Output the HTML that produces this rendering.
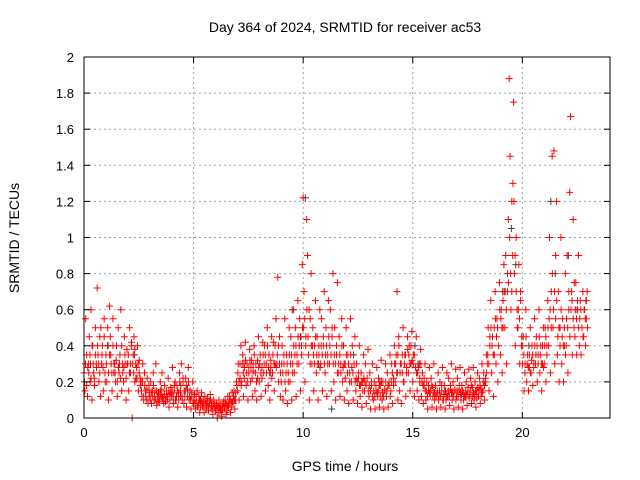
<!DOCTYPE html>
<html><head><meta charset="utf-8"><style>
body{margin:0;background:#fff}
svg{display:block;font-family:"Liberation Sans",sans-serif}
</style></head><body>
<svg id="chart" width="640" height="480" viewBox="0 0 640 480">
<rect width="640" height="480" fill="#fff"/>
<g id="grid"></g>
<g id="points"></g>
<rect x="84" y="57" width="526" height="361" fill="none" stroke="#000" stroke-width="1"/>
<g id="ticks"></g>
<text x="345" y="32" font-size="14" text-anchor="middle">Day 364 of 2024, SRMTID for receiver ac53</text>
<text x="345" y="471" font-size="14" text-anchor="middle">GPS time / hours</text>
<text transform="translate(19,238) rotate(-90)" font-size="14" text-anchor="middle">SRMTID / TECUs</text>
</svg>
<script>
const xTicks=[0,5,10,15,20];
const yTicks=[0,0.2,0.4,0.6,0.8,1,1.2,1.4,1.6,1.8,2];
const binStart=0, binWidth=0.2;
const redBins=[
".25 .15 .55 .35 .12",".3 .45 .2 .6 .1",".4 .25 .18 .5 .3",".72 .35 .2 .45 .12",".3 .4 .15 .55 .25",
".35 .2 .5 .1 .62",".45 .3 .15 .55 .25",".3 .2 .4 .12 .5",".25 .35 .6 .15 .3",".2 .45 .3 .1 .38",
".3 .15 .5 .25 .4","0 .35 .45 .2 .3",".28 .4 .15 .32 .22",".2 .12 .3 .1 .25",".15 .1 .22 .08 .18",
".12 .2 .08 .15 .25",".1 .15 .3 .07 .12",".14 .09 .2 .12 .25",".12 .08 .18 .1 .15",".1 .22 .06 .13 .17",
".12 .28 .08 .15 .2",".1 .18 .06 .14 .25",".15 .3 .1 .2 .08",".12 .22 .06 .16 .28",".1 .15 .05 .12 .2",
".08 .13 .05 .1 .15",".07 .12 .03 .1 .14",".06 .1 .03 .12 .08",".07 .11 .04 .09 .13",".05 .09 .02 .1 .07",
".04 .08 0 .06 .1",".03 .07 .01 .05 .09",".05 .1 .02 .07 .12",".06 .12 .03 .09 .14",".08 .15 .05 .1 .2",
".15 .3 .1 .22 .4",".2 .35 .12 .28 .42",".18 .3 .1 .25 .38",".2 .32 .12 .26 .4",".15 .3 .1 .22 .45",
".2 .35 .12 .28 .42",".25 .4 .15 .3 .5",".18 .35 .1 .28 .45",".25 .42 .15 .3 .55",".3 .78 .2 .45 .12",
".2 .4 .1 .3 .55",".15 .35 .08 .25 .5",".2 .45 .1 .3 .6",".25 .5 .12 .35 .65",".3 .55 .15 .4 .85",
"1.22 .7 .2 .45 1.1",".9 .35 .1 .55 .8",".3 .5 .15 .4 .65",".25 .45 .1 .35 .6",".3 .55 .15 .4 .7",
".25 .5 .12 .35 .65",".3 .6 .15 .45 .8",".2 .5 .1 .35 .75",".25 .45 .12 .3 .55",".2 .4 .1 .3 .5",
".15 .35 .08 .25 .55",".2 .4 .1 .3 .45",".15 .3 .08 .22 .4",".12 .25 .06 .2 .35",".15 .3 .08 .22 .38",
".12 .25 .05 .18 .3",".1 .2 .05 .15 .28",".12 .22 .06 .18 .32",".1 .2 .05 .15 .3",".12 .25 .06 .18 .35",
".15 .3 .08 .22 .4",".2 .35 .7 .1 .45",".15 .3 .08 .25 .5",".2 .35 .12 .28 .45",".25 .4 .15 .3 .48",
".2 .35 .12 .28 .45",".15 .3 .1 .22 .38",".12 .25 .08 .18 .3",".1 .2 .05 .15 .28",".12 .22 .06 .17 .3",
".1 .18 .05 .14 .25",".12 .2 .06 .15 .28",".1 .18 .05 .13 .25",".12 .22 .07 .16 .3",".1 .2 .05 .15 .27",
".12 .22 .06 .16 .28",".1 .18 .05 .14 .25",".12 .2 .07 .15 .27",".13 .22 .08 .17 .28",".1 .2 .06 .15 .25",
".12 .22 .08 .16 .3",".15 .25 .1 .2 .35",".3 .5 .15 .4 .65",".25 .45 .12 .35 .7",".3 .55 .2 .4 .75",
".35 .6 .25 .5 .85",".5 .9 .3 .7 1.1","1.88 1.45 .6 1.2 .9","1.75 .8 .4 1.0 .6",".5 .85 .3 .65 .4",
".3 .45 .15 .25 .6",".2 .35 .15 .28 .5",".25 .4 .18 .3 .55",".3 .45 .2 .35 .6",".25 .4 .15 .3 .5",
".3 .5 .2 .4 .65",".4 1.0 .25 .7 1.45",".5 1.48 .3 .9 1.2",".35 .7 .2 .5 1.0",".3 .55 .2 .4 .8",
".4 .9 .25 .6 1.25","1.67 .7 .35 1.1 .5",".45 .75 .35 .6 .9",".4 .65 .35 .5 .7",".45 .6 .4 .55 .7"];
const redBins2=[
".2 .3 .18 .28",".25 .35 .22 .4",".3 .22 .35 .28",".4 .3 .25 .5",".35 .28 .45 .2",
".3 .4 .25 .35",".35 .25 .4 .3",".25 .32 .2 .28",".3 .22 .4 .25",".28 .35 .22 .3",
".35 .25 .3 .42",".3 .25 .38 .22",".22 .3 .25 .18",".15 .2 .12 .18",".12 .16 .1 .14",
".1 .14 .12 .18",".12 .1 .15 .09",".1 .13 .16 .11",".1 .13 .09 .12",".12 .15 .1 .14",
".15 .12 .18 .1",".12 .15 .1 .2",".18 .12 .22 .15",".15 .18 .12 .2",".12 .1 .14 .08",
".1 .08 .12 .06",".08 .1 .06 .09",".08 .06 .1 .05",".09 .06 .08 .1",".07 .05 .08 .06",
".05 .07 .03 .06",".05 .04 .06 .08",".06 .08 .04 .07",".08 .1 .06 .09",".12 .1 .14 .18",
".25 .2 .3 .18",".3 .25 .22 .32",".25 .2 .28 .32",".28 .22 .3 .35",".25 .2 .32 .28",
".3 .25 .22 .35",".3 .35 .25 .4",".28 .25 .32 .22",".35 .3 .4 .28",".35 .4 .3 .25",
".3 .25 .35 .2",".25 .3 .2 .35",".3 .35 .25 .4",".35 .4 .3 .45",".4 .45 .35 .5",
".5 .55 .4 .6",".45 .6 .3 .4",".4 .35 .3 .45",".35 .3 .4 .28",".4 .35 .45 .3",
".35 .4 .3 .45",".4 .35 .5 .3",".35 .3 .4 .25",".3 .35 .25 .4",".28 .3 .22 .35",
".25 .3 .2 .35",".28 .25 .3 .2",".22 .2 .25 .18",".18 .2 .15 .22",".2 .18 .22 .15",
".18 .15 .2 .12",".15 .12 .18 .14",".15 .18 .12 .2",".14 .12 .16 .2",".15 .18 .2 .12",
".2 .25 .18 .3",".3 .25 .35 .4",".25 .3 .35 .2",".3 .35 .25 .38",".35 .3 .4 .32",
".3 .35 .28 .25",".25 .28 .2 .3",".2 .18 .22 .15",".15 .12 .18 .14",".15 .18 .12 .14",
".14 .12 .15 .1",".15 .12 .18 .1",".13 .15 .1 .12",".15 .12 .18 .14",".14 .12 .16 .1",
".15 .12 .18 .14",".13 .15 .1 .12",".15 .13 .17 .11",".15 .18 .12 .14",".13 .15 .11 .17",
".15 .18 .12 .14",".2 .18 .22 .25",".35 .3 .45 .5",".4 .35 .5 .55",".45 .5 .4 .6",
".55 .5 .65 .7",".7 .6 .8 .75","1.0 .8 .7 1.3","1.2 .9 .7 .5",".6 .55 .7 .45",
".4 .35 .3 .45",".3 .28 .35 .25",".32 .35 .28 .4",".35 .4 .3 .45",".35 .3 .4 .28",
".4 .45 .35 .5",".55 .6 .5 .8",".6 .7 .55 .65",".45 .5 .4 .6",".45 .4 .5 .35",
".55 .5 .7 .45",".6 .65 .55 .75",".6 .55 .65 .5",".55 .6 .5 .45",".6 .55 .65 .5"];
const grayTimes=[0.3,1.1,2.3,3.5,4.4,5.3,7.3,8.5,9.5,9.9,10.1,10.7,11.3,12.3,13.5,14.3,15.1,15.3,16.5,18.3,19.1,19.5,19.7,20.3,21.3,21.5,22.1,22.5,22.9];
const grayValues=[0.3,0.4,0.35,0.15,0.12,0.1,0.3,0.25,0.6,0.45,1.22,0.3,0.05,0.35,0.2,0.25,0.4,0.3,0.15,0.2,0.7,1.05,0.85,0.4,1.2,0.8,0.9,0.6,0.65];
const NS="http://www.w3.org/2000/svg";
const X=t=>84+t*(526/24), Y=v=>418-v*(361/2);
const grid=document.getElementById('grid'),ticks=document.getElementById('ticks'),pts=document.getElementById('points');
function mk(tag,attrs,parent){const e=document.createElementNS(NS,tag);for(const k in attrs)e.setAttribute(k,attrs[k]);parent.appendChild(e);return e;}
xTicks.forEach(t=>{
  const x=X(t);
  if(t>0){const g=mk('line',{x1:x,x2:x,y1:57,y2:418,stroke:'#a0a0a0','stroke-dasharray':'2,3'},grid);
  
  }
  mk('line',{x1:x,x2:x,y1:418,y2:412,stroke:'#000'},ticks);
  mk('line',{x1:x,x2:x,y1:57,y2:63,stroke:'#000'},ticks);
  const l=mk('text',{x:x,y:437,'font-size':13,'text-anchor':'middle'},ticks);l.textContent=t;
  
  
});
yTicks.forEach(v=>{
  const y=Y(v);
  if(v>0&&v<2){const g=mk('line',{x1:84,x2:610,y1:y,y2:y,stroke:'#a0a0a0','stroke-dasharray':'2,3'},grid);
  
  }
  mk('line',{x1:84,x2:90,y1:y,y2:y,stroke:'#000'},ticks);
  mk('line',{x1:610,x2:604,y1:y,y2:y,stroke:'#000'},ticks);
  const l=mk('text',{x:74,y:y+5,'font-size':13,'text-anchor':'end'},ticks);l.textContent=String(v);
  
  
});
function plus(x,y){return `M${x-3.5} ${y}h7M${x} ${y-3.5}v7`;}
let gd='';grayTimes.forEach((t,i)=>{gd+=plus(X(t),Y(grayValues[i]));});
const gp=mk('path',{d:gd,stroke:'#404040','stroke-width':1,fill:'none'},pts);


let rd='';
redBins.forEach((s,i)=>{s.split(' ').map(Number).forEach((v,k)=>{const t=binStart+i*binWidth+k*binWidth/5;rd+=plus(X(t),Y(v));});});
redBins2.forEach((s,i)=>{s.split(' ').map(Number).forEach((v,k)=>{const t=binStart+i*binWidth+binWidth/10+k*binWidth/4;rd+=plus(X(t),Y(v));});});
const rp=mk('path',{d:rd,stroke:'#ff0000','stroke-width':1,fill:'none'},pts);


</script>
</body></html>
